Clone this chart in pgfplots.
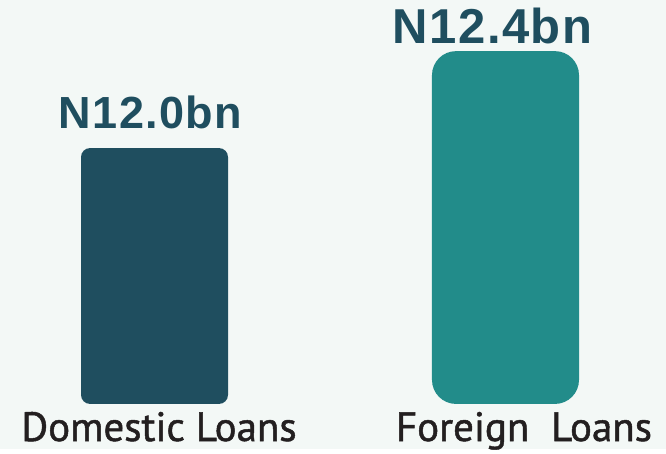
\documentclass[border=0pt]{standalone}
\usepackage{fontspec}
\setmainfont{Liberation Sans}
\newfontfamily\catfont[FakeBold=1.2]{PT Sans}
\newfontfamily\valfont[LetterSpace=3]{Liberation Sans Bold}
\usepackage{pgfplots}
\pgfplotsset{compat=1.18}
\definecolor{bgc}{HTML}{F3F8F6}
\definecolor{darkteal}{HTML}{1F4E5F}
\definecolor{teal2}{HTML}{228C8A}
\definecolor{txt}{HTML}{231F20}
\begin{document}
\begin{tikzpicture}
\fill[bgc] (0,0) rectangle (666bp,449bp);
\begin{axis}[at={(0,0)},anchor=south west,scale only axis,width=666bp,height=449bp,
  hide axis,ybar,bar width=147bp,bar shift=0pt,
  y coord trafo/.code={\pgfmathparse{#1-10.944}},
  y coord inv trafo/.code={\pgfmathparse{#1+10.944}},
  xmin=-0.4402,xmax=1.4573,ymin=10.758,ymax=12.611,clip=false]
% Domestic
\addplot[fill=darkteal,draw=none,rounded corners=9bp] coordinates {(0,12.0)};
% Foreign
\addplot[fill=teal2,draw=none,rounded corners=24bp] coordinates {(1,12.4)};
\node[anchor=base,text=darkteal,font=\valfont\fontsize{45bp}{45bp}\selectfont] at (axis cs:0,12.082) [xshift=-4bp] {N12.0bn};
\node[anchor=base,text=darkteal,font=\valfont\fontsize{49bp}{49bp}\selectfont] at (axis cs:1,12.433) [xshift=-13bp] {N12.4bn};
\node[anchor=base,text=txt,font=\catfont\fontsize{41bp}{41bp}\selectfont] at (axis cs:0,10.791) [xshift=4.5bp] {Domestic Loans};
\node[anchor=base,text=txt,font=\catfont\fontsize{41bp}{41bp}\selectfont] at (axis cs:1,10.791) [xshift=18.5bp] {Foreign\ \ Loans};
\end{axis}
\end{tikzpicture}
\end{document}
